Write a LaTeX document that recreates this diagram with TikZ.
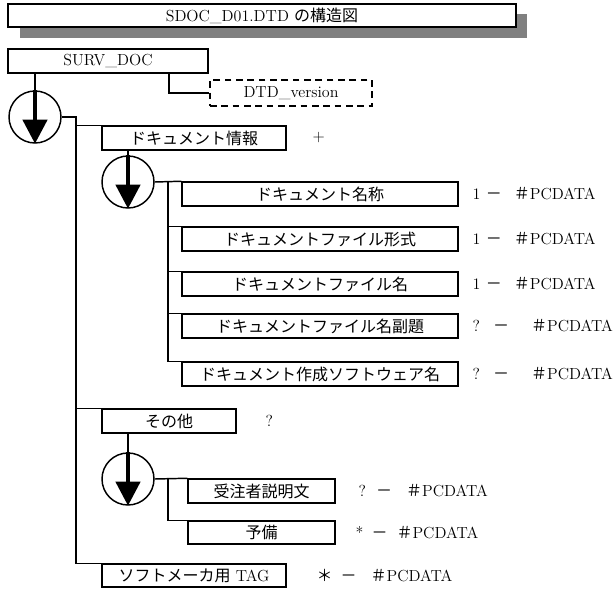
\documentclass[tikz,border=0pt]{standalone}
\usepackage{fontspec}
\newfontfamily\cjk{Noto Sans CJK JP}
\usepackage{tikz}
\usetikzlibrary{arrows.meta}

\begin{document}
\begin{tikzpicture}[x=0.75pt,y=-0.75pt,font=\fontsize{12}{14}\selectfont,
    line width=1.1pt,
    seq/.style={-{Triangle[width=18pt,length=18pt]},line width=3.2pt}]
\useasboundingbox (0,0) rectangle (615,589);
% title with its shadow
\fill[gray] (20,14) rectangle (527,38);
\node[draw,line width=1.8pt,fill=white,minimum width=381pt,minimum height=17.25pt,inner sep=0pt] (T) at (262,15.5) {SDOC\_D01.DTD {\cjk の構造図}};

\begin{scope}[every node/.style={rectangle,draw,line width=1.1pt,inner sep=0pt,minimum height=18pt}]
    \node[minimum width=150pt] (S) at (108,61) {SURV\_DOC};
    \node[minimum width=121.5pt,minimum height=19.5pt,dash pattern=on 5pt off 3.5pt] (V) at (291,93) {DTD\_version};
    \node[minimum width=138pt] (D) at (194,138) {\cjk ドキュメント情報};
    \node[minimum width=207pt] (E1) at (320,194) {\cjk ドキュメント名称};
    \node[minimum width=207pt] (E2) at (320,239) {\cjk ドキュメントファイル形式};
    \node[minimum width=207pt] (E3) at (320,284) {\cjk ドキュメントファイル名};
    \node[minimum width=207pt] (E4) at (320,326) {\cjk ドキュメントファイル名副題};
    \node[minimum width=207pt] (E5) at (320,374) {\cjk ドキュメント作成ソフトウェア名};
    \node[minimum width=100.5pt] (O) at (169,421) {\cjk その他};
    \node[minimum width=110.25pt] (F1) at (261.5,491) {\cjk 受注者説明文};
    \node[minimum width=110.25pt,minimum height=17.25pt] (F2) at (261.5,532.5) {\cjk 予備};
    \node[minimum width=138pt,minimum height=17.25pt] (K) at (194,575.5) {{\cjk ソフトメーカ用} TAG};
\end{scope}

\begin{scope}[every node/.style={circle,draw,line width=1.1pt,inner sep=0pt,minimum size=39pt}]
    \node (C1) at (35,117) {};
    \node (C2) at (128,182) {};
    \node (C3) at (128,479) {};
\end{scope}

% sequence arrows
\foreach \c in {C1,C2,C3}
    \draw[seq] (\c.north) -- (\c.south);

\begin{scope}[every node/.style={anchor=west,inner sep=0pt}]
    \node (Dm) at (312,138) {+};
    \node (Om) at (265,421) {?};
    \node (L1) at (472,194) {1\hspace{4pt}{\cjk －}\hspace{9pt}{\cjk ＃}PCDATA};
    \node (L2) at (472,239) {1\hspace{4pt}{\cjk －}\hspace{9pt}{\cjk ＃}PCDATA};
    \node (L3) at (472,284) {1\hspace{4pt}{\cjk －}\hspace{9pt}{\cjk ＃}PCDATA};
    \node (L4) at (472,326) {?\hspace{9.75pt}{\cjk －}\hspace{16.5pt}{\cjk ＃}PCDATA};
    \node (L5) at (472,374) {?\hspace{9.75pt}{\cjk －}\hspace{16.5pt}{\cjk ＃}PCDATA};
    \node (M1) at (358,491) {?\hspace{7.5pt}{\cjk －}\hspace{10.5pt}{\cjk ＃}PCDATA};
    \node (M2) at (355,532.5) {*\hspace{6pt}{\cjk －}\hspace{6.75pt}{\cjk ＃}PCDATA};
    \node (LK) at (316,575.5) {{\cjk ＊}\hspace{6pt}{\cjk －}\hspace{10.5pt}{\cjk ＃}PCDATA};
\end{scope}

% connectors
\coordinate (s1) at (169,73);
\coordinate (t1) at (76,117);
\coordinate (t2) at (168,182);
\coordinate (t3) at (168,479);
\draw (C1.north |- S.south) -- (C1.north);
\draw (s1) |- (V.west);
\draw (C1.east) -- (t1) |- (K.north west);
\draw (t1 |- D.north west) -- (D.north west);
\draw (t1 |- O.north west) -- (O.north west);
\draw (C2.north |- D.south) -- (C2.north);
\draw (C2.east) -- (E1.north west);
\draw (t2) |- (E5.north west);
\foreach \n in {2,3,4}
    \draw (t2 |- E\n.north west) -- (E\n.north west);
\draw (C3.north |- O.south) -- (C3.north);
\draw (C3.east) -- (F1.north west);
\draw (t3) |- (F2.north west);
\end{tikzpicture}
\end{document}
